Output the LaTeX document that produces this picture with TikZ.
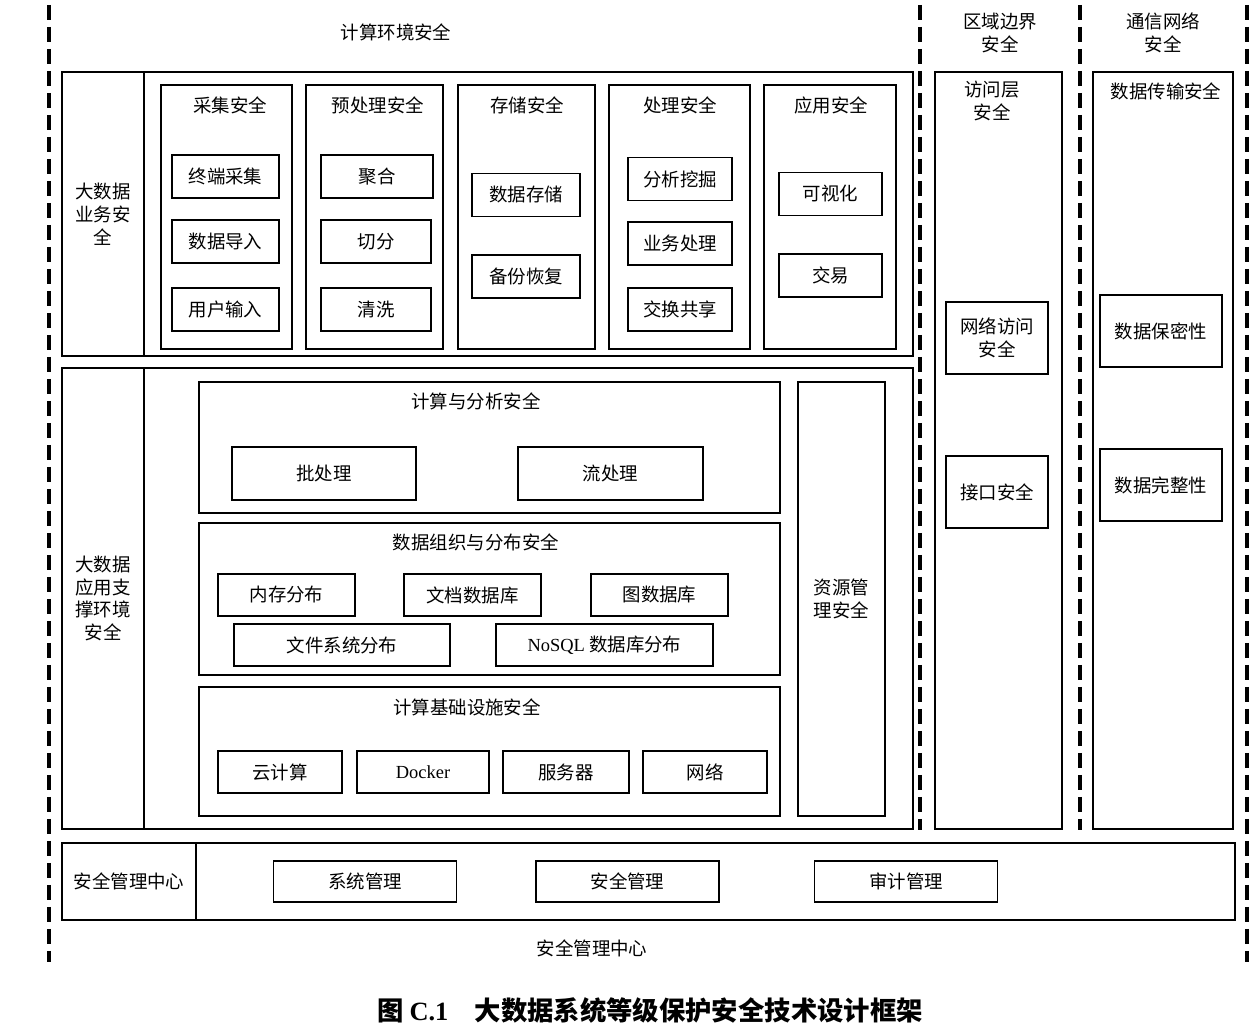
\documentclass[tikz,border=0pt]{standalone}
\usepackage{fontspec}
\setmainfont{Noto Sans CJK SC}
\newfontfamily\latim{Liberation Serif}
\usepackage{tikz}
\usetikzlibrary{positioning}
\newcommand{\corpo}{\fontsize{10.5}{13}\selectfont}
\tikzset{
  moldura/.style 2 args={draw, line width=1.1pt, minimum width=#1, minimum height=#2, inner sep=0pt, align=center, font=\corpo},
  item/.style 2 args={draw, line width=1pt, minimum width=#1, minimum height=#2, inner sep=0pt, align=center, font=\corpo},
  rotulo/.style={align=center, font=\corpo, inner sep=1pt},
  divisa/.style={line width=1.9pt, dash pattern=on 0.3cm off 0.14cm},
}

\begin{document}
\begin{tikzpicture}[x=0.02cm, y=-0.02cm]
  \useasboundingbox (0,0) rectangle (1259,1033);
  % faixas tracejadas
  \draw[divisa] (49,5) -- (49,962);
  \draw[divisa] (920,5) -- (920,830);
  \draw[divisa] (1080,5) -- (1080,830);
  \draw[divisa] (1247,5) -- (1247,962);

  % cabecalhos
  \node[rotulo] (hcomp) at (396,32) {计算环境安全};
  \node[rotulo] (hbord) at (1000,33) {区域边界\\安全};
  \node[rotulo] (hrede) at (1163,33) {通信网络\\安全};

  % camada de negocio
  \node[moldura={17.02cm}{5.68cm}] (negocio) at (487.5,214) {};
  \node[moldura={1.64cm}{5.68cm}] (negocioRot) at (103,214) {大数据\\业务安\\全};
  \foreach \nome/\cx/\w/\tit/\tx in {
      c1/226.5/2.62/采集安全/230,
      c2/374.5/2.74/预处理安全/378,
      c3/526.5/2.74/存储安全/527,
      c4/679.5/2.82/处理安全/680,
      c5/830/2.64/应用安全/831} {
    \node[moldura={\w cm}{5.28cm}] (\nome) at (\cx,217) {};
    \node[rotulo] (\nome-t) at (\tx,105) {\tit};
  }
  \foreach \nome/\cx/\cy/\w/\txt in {
      ca/225.5/176.5/2.14/终端采集, cb/225.5/241.5/2.14/数据导入, cc/225.5/309.5/2.14/用户输入,
      pa/377/176.5/2.24/聚合, pb/376/241.5/2.2/切分, pc/376/309.5/2.2/清洗,
      sa/526/195/2.16/数据存储, sb/526/276.5/2.16/备份恢复,
      ta/680/179/2.08/分析挖掘, tb/680/243.5/2.08/业务处理, tc/680/309.5/2.08/交换共享,
      aa/830.5/194/2.06/可视化, ab/830.5/275.5/2.06/交易} {
    \node[item={\w cm}{0.86cm}] (\nome) at (\cx,\cy) {\txt};
  }

  % camada de apoio
  \node[moldura={17.02cm}{9.22cm}] (apoio) at (487.5,598.5) {};
  \node[moldura={1.64cm}{9.22cm}] (apoioRot) at (103,598.5) {大数据\\应用支\\撑环境\\安全};

  \node[moldura={11.62cm}{2.62cm}] (calc) at (489.5,447.5) {};
  \node[rotulo] (calcT) at (476,401) {计算与分析安全};
  \node[item={3.68cm}{1.06cm}] (lote) at (324,473.5) {批处理};
  \node[item={3.7cm}{1.06cm}] (fluxo) at (610.5,473.5) {流处理};

  \node[moldura={11.62cm}{3.04cm}] (dados) at (489.5,599) {};
  \node[rotulo] (dadosT) at (476,542) {数据组织与分布安全};
  \foreach \nome/\cx/\cy/\w/\txt in {
      mem/286.5/595/2.74/内存分布, doc/472.5/595/2.74/文档数据库, graf/659.5/595/2.74/图数据库,
      arq/342/645/4.32/文件系统分布, nosql/604.5/645/4.34/{{\latim NoSQL} 数据库分布}} {
    \node[item={\w cm}{0.84cm}] (\nome) at (\cx,\cy) {\txt};
  }

  \node[moldura={11.62cm}{2.58cm}] (infra) at (489.5,751.5) {};
  \node[rotulo] (infraT) at (467,707) {计算基础设施安全};
  \foreach \nome/\cx/\w/\txt in {
      nuvem/280/2.48/云计算, dock/423/2.64/{\latim Docker},
      serv/566/2.52/服务器, net/705/2.48/网络} {
    \node[item={\w cm}{0.84cm}] (\nome) at (\cx,772) {\txt};
  }

  \node[moldura={1.74cm}{8.68cm}] (recurso) at (841.5,599) {资源管\\理安全};

  % fronteira e rede
  \node[moldura={2.54cm}{15.14cm}] (borda) at (998.5,450.5) {};
  \node[rotulo] (bordaT) at (992,101) {访问层\\安全};
  \node[item={2.04cm}{1.44cm}] (acesso) at (997,338) {网络访问\\安全};
  \node[item={2.04cm}{1.44cm}] (interf) at (997,492) {接口安全};

  \node[moldura={2.8cm}{15.14cm}] (rede) at (1163,450.5) {};
  \node[rotulo] (redeT) at (1166,91) {数据传输安全};
  \node[item={2.44cm}{1.44cm}] (sigilo) at (1161,331) {数据保密性};
  \node[item={2.44cm}{1.44cm}] (integr) at (1161,485) {数据完整性};

  % centro de gestao
  \node[moldura={23.46cm}{1.54cm}] (gestao) at (648.5,881.5) {};
  \node[moldura={2.68cm}{1.54cm}] (gestaoRot) at (129,881.5) {安全管理中心};
  \foreach \nome/\cx/\txt in {sis/365/系统管理, seg/627.5/安全管理, aud/906/审计管理} {
    \node[item={3.66cm}{0.82cm}] (\nome) at (\cx,881.5) {\txt};
  }
  \node[rotulo] (centro) at (592,948) {安全管理中心};

  \node[font=\fontsize{15}{18}\selectfont\bfseries] (legenda) at (650,1010)
    {图 {\latim C.1}\quad 大数据系统等级保护安全技术设计框架};
\end{tikzpicture}
\end{document}
